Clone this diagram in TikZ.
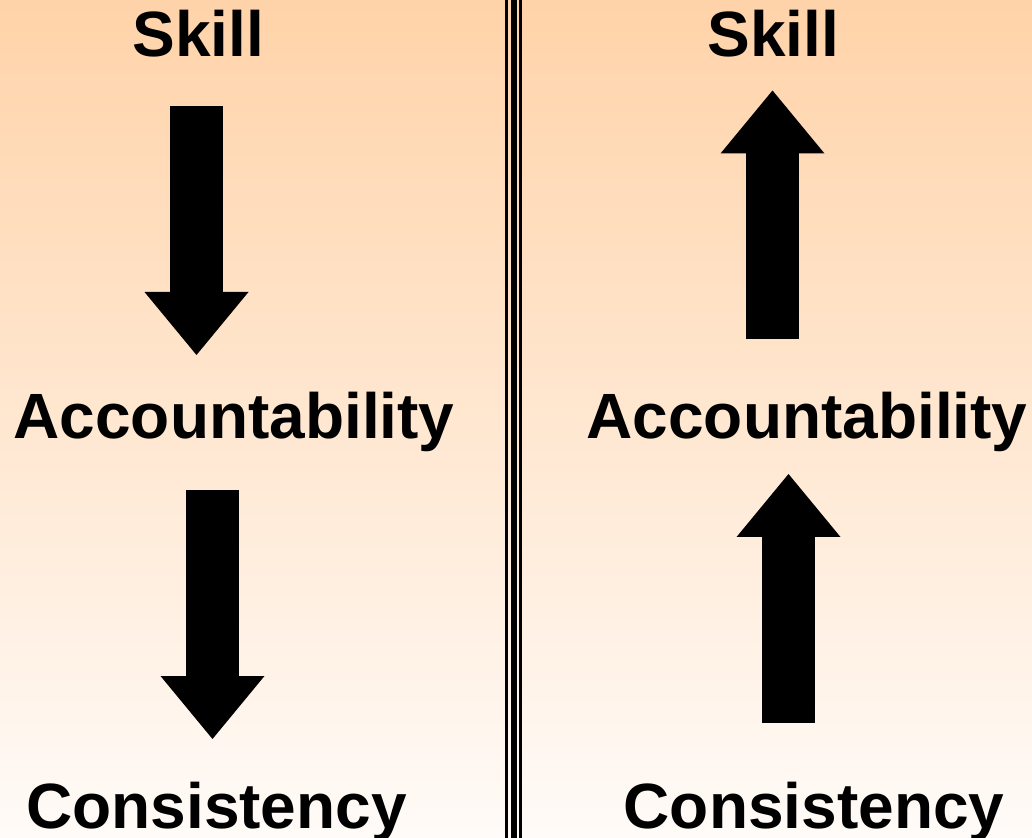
\documentclass[tikz,border=0pt]{standalone}
\usepackage{fontspec}
\setmainfont{Liberation Sans}
\usetikzlibrary{arrows.meta}
\definecolor{peachtop}{RGB}{255,211,169}
\definecolor{peachbottom}{RGB}{255,251,248}
\def\wordfont{\bfseries\fontsize{32}{36}\selectfont}

\begin{document}
\begin{tikzpicture}[x = 0.5pt, y = -0.5pt,
		word/.style = {anchor = base, inner sep = 0pt, font = \wordfont},
		blockarrow/.style = {line width = 26.5pt, black, -{Triangle[length = 31.5pt, width = 52pt, line width = 0pt]}}]
		\useasboundingbox (0, 0) rectangle (1032, 838);
		\shade[top color = peachtop, bottom color = peachbottom] (0, 0) rectangle (1032, 838);
		\draw[line width = 1.5pt] (506.5, 0) -- (506.5, 838);
		\draw[line width = 3pt] (513.75, 0) -- (513.75, 838);
		\draw[line width = 1.5pt] (520.5, 0) -- (520.5, 838);
		% going down on the left
		\node[word] (skillL) at (198.5, 57) {Skill};
		\node[word] (accL) at (234, 438.5) {Accountability};
		\node[word] (consL) at (216.5, 828) {Consistency};
		\coordinate (downA) at (196.5, 106);
		\coordinate (downB) at (196.5, 355);
		\coordinate (downC) at (212.5, 490);
		\coordinate (downD) at (212.5, 739);
		\draw[blockarrow] (downA) -- (downB);
		\draw[blockarrow] (downC) -- (downD);
		% going up on the right
		\node[word] (skillR) at (773.5, 57) {Skill};
		\node[word] (accR) at (807, 439) {Accountability};
		\node[word] (consR) at (814, 828) {Consistency};
		\coordinate (upA) at (772.5, 339);
		\coordinate (upB) at (772.5, 90.5);
		\coordinate (upC) at (788.5, 723);
		\coordinate (upD) at (788.5, 474);
		\draw[blockarrow] (upA) -- (upB);
		\draw[blockarrow] (upC) -- (upD);
	\end{tikzpicture}
\end{document}
